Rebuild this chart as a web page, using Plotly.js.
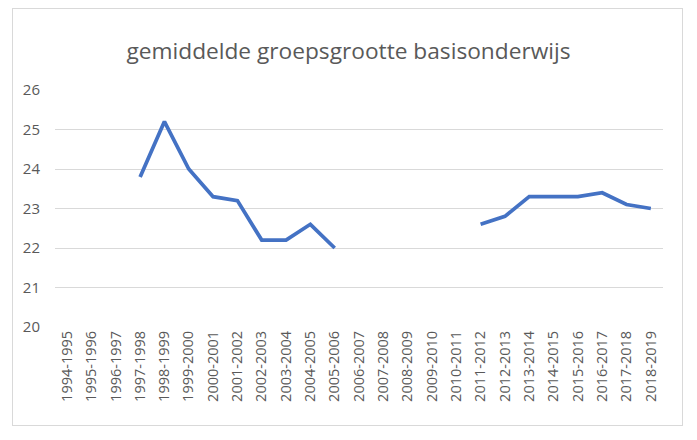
<!DOCTYPE html>
<html><head><meta charset="utf-8">
<script src="https://cdn.plot.ly/plotly-3.0.1.min.js"></script>
<style>body{margin:0;background:#fff}#wrap{position:relative;width:697px;height:440px}#frame{position:absolute;left:12px;top:8px;width:669px;height:416px;border:1px solid #d9d9d9;pointer-events:none}</style>
</head><body><div id="wrap"><div id="chart" style="width:697px;height:440px"></div><div id="frame"></div></div>
<script>
const years = ["1994-1995","1995-1996","1996-1997","1997-1998","1998-1999","1999-2000","2000-2001","2001-2002","2002-2003","2003-2004","2004-2005","2005-2006","2006-2007","2007-2008","2008-2009","2009-2010","2010-2011","2011-2012","2012-2013","2013-2014","2014-2015","2015-2016","2016-2017","2017-2018","2018-2019"];
const groupSize = [null,null,null,23.8,25.2,24.0,23.3,23.2,22.2,22.2,22.6,22.0,null,null,null,null,null,22.6,22.8,23.3,23.3,23.3,23.4,23.1,23.0];
const yTicks = [20,21,22,23,24,25,26];
const titleText = "gemiddelde groepsgrootte basisonderwijs";

Plotly.newPlot("chart", [{
  x: years, y: groupSize, type: "scatter", mode: "lines",
  connectgaps: false,
  line: {color: "#4472C4", width: 3.75}
}], {
  width: 697, height: 440,
  margin: {l: 55, r: 34, t: 90, b: 113},
  paper_bgcolor: "#fff", plot_bgcolor: "#fff",
  showlegend: false,
  title: {text: titleText, x: 0.5, xanchor: "center", y: 0.883, yanchor: "middle",
    font: {family: "Open Sans", size: 22.7, color: "#595959"}},
  xaxis: {type: "category", range: [-0.5, 24.5], tickangle: -90,
    showgrid: false, zeroline: false, showline: false, ticks: "",
    tickfont: {family: "Open Sans", size: 14.5, color: "#595959"}},
  yaxis: {range: [20, 26], tickvals: yTicks, showgrid: true, gridcolor: "#d9d9d9", gridwidth: 1,
    zeroline: false, showline: false, ticks: "", ticklabelstandoff: 14,
    tickfont: {family: "Liberation Sans Narrow, Open Sans", size: 15, color: "#595959"}}
}, {staticPlot: true});
</script></body></html>
